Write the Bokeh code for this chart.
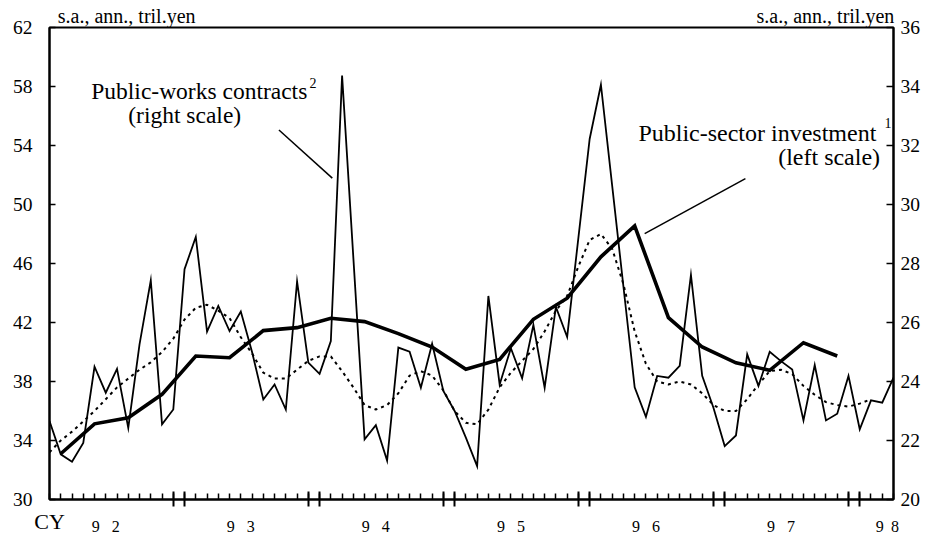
from bokeh.plotting import figure
from bokeh.models import Range1d, LinearAxis, FixedTicker, Label
from bokeh.embed import file_html
from bokeh.resources import INLINE

# ---- data (month index: 0 = Jan 1992) ----
months = list(range(76))
contracts = [22.66, 21.53, 21.28, 21.92, 24.50, 23.62, 24.43, 22.43, 25.26, 27.43,
             22.55, 23.05, 27.81, 28.90, 25.69, 26.56, 25.71, 26.37, 25.00, 23.39,
             23.90, 23.05, 27.39, 24.64, 24.26, 25.37, 34.37, 28.20, 22.04, 22.52,
             21.32, 25.15, 25.01, 23.79, 25.28, 23.68, 23.00, 22.10, 21.13, 26.90,
             23.90, 25.13, 24.11, 25.92, 23.79, 26.53, 25.51, 28.88, 32.22, 34.06,
             30.64, 27.22, 23.80, 22.80, 24.19, 24.13, 24.53, 27.61, 24.19, 23.11,
             21.81, 22.17, 24.92, 23.85, 25.01, 24.69, 24.41, 22.68, 24.56, 22.68,
             22.91, 24.19, 22.38, 23.36, 23.28, 24.13]

trend_months = list(range(74))
contracts_trend = [21.6, 22.0, 22.3, 22.65, 23.0, 23.4, 23.8, 24.1, 24.4, 24.65,
                   25.0, 25.45, 26.1, 26.5, 26.6, 26.4, 26.15, 25.5, 24.95, 24.3,
                   24.1, 24.1, 24.4, 24.7, 24.85, 24.85, 24.35, 23.8, 23.2, 23.05,
                   23.2, 23.6, 24.2, 24.35, 24.2, 23.7, 23.0, 22.6, 22.55, 23.05,
                   23.8, 24.3, 24.7, 25.1, 25.7, 26.4, 26.9, 27.9, 28.8, 29.0,
                   28.5, 27.3, 25.7, 24.6, 24.0, 23.9, 24.0, 23.9, 23.6, 23.2,
                   23.0, 23.0, 23.4, 23.9, 24.35, 24.4, 24.25, 23.85, 23.55, 23.3,
                   23.2, 23.15, 23.25, 23.4]

quarter_months = list(range(1, 71, 3))
investment = [33.10, 35.13, 35.54, 37.13, 39.73, 39.61, 41.45, 41.65, 42.29, 42.06,
              41.25, 40.34, 38.83, 39.50, 42.22, 43.65, 46.45, 48.55, 42.33, 40.34,
              39.27, 38.76, 40.63, 39.73]

year_tick_months = [11, 12, 23, 24, 35, 36, 47, 48, 59, 60, 71, 72]
year_label_months = [5, 17, 29, 41, 53, 65, 74.46]
year_labels = ["9\u00a0\u00a0\u00a02", "9\u00a0\u00a0\u00a03", "9\u00a0\u00a0\u00a04",
               "9\u00a0\u00a0\u00a05", "9\u00a0\u00a0\u00a06", "9\u00a0\u00a0\u00a07",
               "9\u00a0\u20098"]
calendar_label = "CY"
unit_label_months = [6.86, 68.95]
unit_labels = ["s.a., ann., tril.yen", "s.a., ann., tril.yen"]
left_ticks = list(range(30, 63, 4))
right_ticks = list(range(20, 37, 2))

FONT = "Liberation Serif"

p = figure(width=931, height=536, output_backend="svg", toolbar_location=None,
           x_range=Range1d(0, 75), y_range=Range1d(30, 62),
           x_axis_location=None, y_axis_location=None,
           min_border_left=49, min_border_right=38, min_border_top=27, min_border_bottom=37)
p.extra_y_ranges = {"right": Range1d(20, 36)}
p.grid.visible = False
p.outline_line_color = "black"
p.outline_line_width = 2
p.background_fill_color = "white"
p.border_fill_color = "white"

# left axis
la = LinearAxis(ticker=FixedTicker(ticks=left_ticks),
                major_tick_in=6, major_tick_out=0, minor_tick_line_color=None,
                axis_line_width=2, major_tick_line_width=1.5,
                major_label_standoff=17, major_label_text_font=FONT,
                major_label_text_font_size="19.5px", major_label_text_color="black")
p.add_layout(la, "left")

# right axis
ra = LinearAxis(y_range_name="right", ticker=FixedTicker(ticks=right_ticks),
                major_tick_in=7, major_tick_out=0, minor_tick_line_color=None,
                axis_line_width=2, major_tick_line_width=1.5,
                major_label_standoff=7, major_label_text_font=FONT,
                major_label_text_font_size="19.5px", major_label_text_color="black")
p.add_layout(ra, "right")

# bottom axis 1: month ticks and year separators (no labels)
xt = LinearAxis(ticker=FixedTicker(ticks=year_tick_months, minor_ticks=months),
                major_tick_in=8, major_tick_out=7, minor_tick_in=6, minor_tick_out=0,
                axis_line_width=2, major_tick_line_width=2, minor_tick_line_width=1.5,
                major_label_overrides={m: "" for m in year_tick_months},
                major_label_standoff=0)
p.add_layout(xt, "below")

# bottom axis 2: year labels, with "CY" as its axis label at the start
xl = LinearAxis(ticker=FixedTicker(ticks=year_label_months),
                major_label_overrides={m: t for m, t in zip(year_label_months, year_labels)},
                axis_line_color=None, major_tick_line_color=None, minor_tick_line_color=None,
                major_tick_in=0, major_tick_out=0,
                major_label_standoff=11, major_label_text_font=FONT,
                major_label_text_font_size="16px", major_label_text_color="black",
                axis_label=calendar_label, axis_label_text_font=FONT,
                axis_label_text_font_size="22px", axis_label_text_font_style="normal",
                axis_label_text_color="black", axis_label_align="start",
                axis_label_standoff=-29)
p.add_layout(xl, "below")

# top axis: unit labels
xu = LinearAxis(ticker=FixedTicker(ticks=unit_label_months),
                major_label_overrides={m: t for m, t in zip(unit_label_months, unit_labels)},
                axis_line_color=None, major_tick_line_color=None, minor_tick_line_color=None,
                major_tick_in=0, major_tick_out=0,
                major_label_standoff=1, major_label_text_font=FONT,
                major_label_text_font_size="20px", major_label_text_color="black")
p.add_layout(xu, "above")

# series
p.line(trend_months, contracts_trend, y_range_name="right", line_color="black",
       line_width=2, line_dash="3 4")
p.line(months, contracts, y_range_name="right", line_color="black",
       line_width=1.8, line_join="miter")
p.line(quarter_months, investment, line_color="black", line_width=3.6, line_join="miter")

# leader lines
p.segment(x0=[20.39, 52.89], y0=[55.05, 48.03], x1=[25.13, 61.84], y1=[51.79, 51.75],
          line_color="black", line_width=1.5)

def lab(x, y, text, size, align="left"):
    p.add_layout(Label(x=x, y=y, text=text, text_font=FONT, text_font_size=size,
                       text_color="black", text_align=align, text_baseline="alphabetic"))

lab(3.71, 57.72, "Public-works contracts", "23.5px")
lab(23.1, 58.26, "2", "14px")
lab(7.0, 56.09, "(right scale)", "23.5px")
lab(52.33, 54.87, "Public-sector investment", "24px")
lab(74.19, 55.55, "1", "14px")
lab(64.75, 53.19, "(left scale)", "24px")

open("out.html", "w").write(file_html(p, INLINE))
